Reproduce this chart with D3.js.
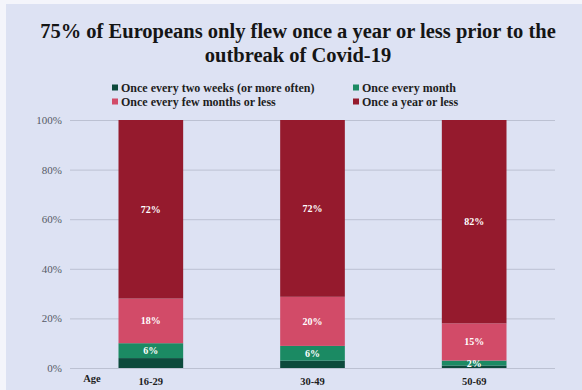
<!DOCTYPE html>
<html>
<head>
<meta charset="utf-8">
<script src="https://cdn.jsdelivr.net/npm/d3@7"></script>
<style>
  html, body { margin: 0; padding: 0; background: #ffffff; }
  svg { display: block; }
</style>
</head>
<body>
<svg id="chart" width="582" height="390"></svg>
<script>
// Flight frequency by age group, share of respondents (%)
const ageGroups = ["16-29", "30-49", "50-69"];
const seriesNames = [
  "Once every two weeks (or more often)",
  "Once every month",
  "Once every few months or less",
  "Once a year or less"
];
const twoWeeks   = [4, 3, 1];
const monthly    = [6, 6, 2];
const fewMonths  = [18, 20, 15];
const yearOrLess = [72, 72, 82];
const yTicks = [0, 20, 40, 60, 80, 100];
const titleLines = [
  "75% of Europeans only flew once a year or less prior to the",
  "outbreak of Covid-19"
];
const colors = ["#0d4a3c", "#1b8a63", "#d24b68", "#951a2d"];

const seriesValues = [twoWeeks, monthly, fewMonths, yearOrLess];
const rows = ageGroups.map((g, i) => {
  const r = { age: g };
  seriesNames.forEach((s, k) => { r[s] = seriesValues[k][i]; });
  return r;
});

const svg = d3.select("#chart");
const W = 582, H = 390;
const serif = "'Liberation Serif', 'DejaVu Serif', serif";

// panel background with a thin light margin at top/left
svg.append("rect").attr("width", W).attr("height", H).attr("fill", "#f4f5fb");
svg.append("rect").attr("x", 6).attr("y", 4).attr("width", W - 6).attr("height", H - 4).attr("fill", "#dde2f3");

// title
svg.append("g").selectAll("text").data(titleLines).join("text")
  .attr("x", 298).attr("y", (d, i) => 38 + i * 24)
  .attr("text-anchor", "middle")
  .attr("font-family", serif).attr("font-weight", "bold").attr("font-size", 20.5)
  .attr("fill", "#151515")
  .text(d => d);

// legend
const legendPos = [
  { x: 112, y: 88 }, { x: 353, y: 88 },
  { x: 112, y: 102 }, { x: 353, y: 102 }
];
const legend = svg.append("g").selectAll("g").data(seriesNames).join("g")
  .attr("transform", (d, i) => `translate(${legendPos[i].x},${legendPos[i].y})`);
legend.append("rect").attr("x", 0).attr("y", -3.5).attr("width", 6).attr("height", 6)
  .attr("fill", (d, i) => colors[i]);
legend.append("text").attr("x", 9).attr("y", 4)
  .attr("font-family", serif).attr("font-weight", "bold").attr("font-size", 12)
  .attr("fill", "#1e1e1e").text(d => d);

// scales
const x = d3.scaleBand().domain(ageGroups).range([70, 555]).paddingInner(0.6).paddingOuter(0.3);
const y = d3.scaleLinear().domain([0, 1]).range([368, 120]);

// grid + y axis
const yAxis = d3.axisLeft(y).tickValues(yTicks.map(v => v / 100))
  .tickSize(-(555 - 70)).tickPadding(8).tickFormat(v => Math.round(v * 100) + "%");
const gy = svg.append("g").attr("transform", "translate(70,0)").call(yAxis);
gy.select(".domain").remove();
gy.selectAll(".tick line").attr("stroke", "#bcc1d2").attr("stroke-width", 1);
gy.selectAll(".tick text").attr("font-family", serif).attr("font-size", 11)
  .attr("fill", "#555a66").attr("x", -8);

// stacked bars, normalised to 100%
const stack = d3.stack().keys(seriesNames).offset(d3.stackOffsetExpand);
const layers = stack(rows);

const gLayers = svg.append("g").selectAll("g").data(layers).join("g")
  .attr("fill", (d, i) => colors[i]);
gLayers.selectAll("rect").data(d => d).join("rect")
  .attr("x", d => x(d.data.age))
  .attr("width", x.bandwidth())
  .attr("y", d => y(d[1]))
  .attr("height", d => y(d[0]) - y(d[1]));

// value labels (all series except the smallest)
layers.forEach((layer, k) => {
  if (k === 0) return;
  svg.append("g").selectAll("text").data(layer).join("text")
    .attr("x", d => x(d.data.age) + x.bandwidth() / 2)
    .attr("y", d => (y(d[0]) + y(d[1])) / 2 + 3.5)
    .attr("text-anchor", "middle")
    .attr("font-family", serif).attr("font-weight", "bold").attr("font-size", 10)
    .attr("fill", "#ffffff")
    .text(d => d.data[layer.key] + "%");
});

// x axis labels
const xAxis = d3.axisBottom(x).tickSize(0).tickPadding(8);
const gx = svg.append("g").attr("transform", "translate(0,370)").call(xAxis);
gx.select(".domain").remove();
gx.selectAll(".tick text").attr("font-family", serif).attr("font-weight", "bold")
  .attr("font-size", 10.5).attr("fill", "#1e1e1e");
svg.append("text").attr("x", 92).attr("y", 382).attr("text-anchor", "middle")
  .attr("font-family", serif).attr("font-weight", "bold").attr("font-size", 10.5)
  .attr("fill", "#1e1e1e").text("Age");
</script>
</body>
</html>
